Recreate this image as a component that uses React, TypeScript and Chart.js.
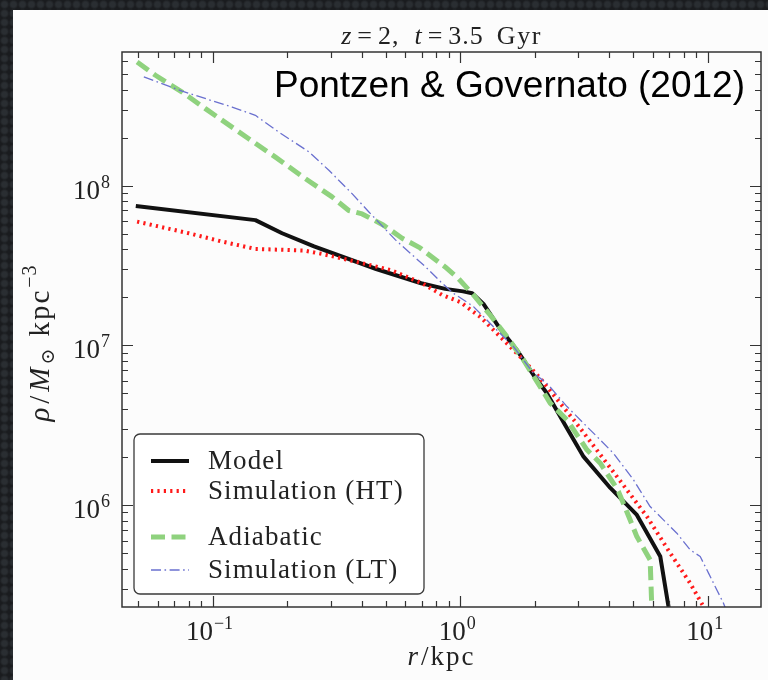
import { useEffect, useRef } from "react";
import { Chart, registerables } from "chart.js";

Chart.register(...registerables);

// Radial density profiles (r in kpc, rho in Msun / kpc^3)
const MODEL_R = [0.049, 0.149, 0.191, 0.257, 0.458, 0.696, 0.87, 1.028, 1.118, 1.242, 1.45, 1.694, 1.977, 2.24, 2.7, 3.15, 4.04, 5.17, 6.43, 6.94, 7.1];
const MODEL_RHO = [7.47e7, 6.09e7, 5.04e7, 4.17e7, 3.01e7, 2.45e7, 2.26e7, 2.18e7, 2.12e7, 1.82e7, 1.27e7, 9.37e6, 6.53e6, 5.02e6, 3.03e6, 2.01e6, 1.28e6, 8.68e5, 4.76e5, 2.31e5, 1.4e5];

const HT_R = [0.0496, 0.0802, 0.1093, 0.149, 0.234, 0.277, 0.378, 0.522, 0.703, 0.846, 1.0, 1.205, 1.45, 1.747, 2.104, 2.534, 2.914, 4.1, 5.68, 7.05, 8.49, 9.61, 10.4];
const HT_RHO = [5.96e7, 5.04e7, 4.47e7, 4.02e7, 3.93e7, 3.74e7, 3.35e7, 2.97e7, 2.45e7, 2.07e7, 1.87e7, 1.51e7, 1.135e7, 8.51e6, 6.23e6, 4.35e6, 3.33e6, 1.66e6, 8.47e5, 5.0e5, 3.24e5, 2.31e5, 1.7e5];

const ADIA_R = [0.0496, 0.0588, 0.0754, 0.0936, 0.14, 0.1795, 0.237, 0.304, 0.355, 0.402, 0.489, 0.583, 0.689, 0.87, 0.979, 1.132, 1.322, 1.544, 1.802, 2.104, 2.31, 2.7, 3.25, 3.68, 4.16, 4.36, 4.86, 5.17, 5.5, 5.85, 5.94, 5.96];
const ADIA_RHO = [5.96e8, 4.92e8, 3.86e8, 3.04e8, 1.97e8, 1.51e8, 1.108e8, 8.51e7, 7.0e7, 6.66e7, 5.68e7, 4.69e7, 4.08e7, 3.1e7, 2.64e7, 2.07e7, 1.55e7, 1.135e7, 8.11e6, 5.52e6, 4.35e6, 3.42e6, 2.22e6, 1.83e6, 1.37e6, 1.215e6, 8.07e5, 6.35e5, 5.37e5, 4.54e5, 2.31e5, 1.5e5];

const LT_R = [0.0528, 0.0754, 0.12, 0.149, 0.185, 0.245, 0.295, 0.366, 0.428, 0.548, 0.724, 0.846, 0.94, 1.132, 1.363, 1.642, 1.977, 2.24, 2.7, 3.25, 3.68, 4.16, 5.01, 5.85, 6.62, 7.5, 8.49, 9.32, 10.07, 10.88, 11.57, 12.0];
const LT_RHO = [4.8e8, 3.91e8, 3.11e8, 2.76e8, 2.17e8, 1.63e8, 1.25e8, 8.92e7, 6.85e7, 4.58e7, 3.11e7, 2.45e7, 2.12e7, 1.75e7, 1.31e7, 9.83e6, 6.7e6, 5.79e6, 4.14e6, 3.1e6, 2.56e6, 2.11e6, 1.44e6, 9.79e5, 8.08e5, 6.67e5, 5.24e5, 4.76e5, 3.75e5, 2.94e5, 2.43e5, 2.1e5];

const SERIES_LABELS = ["Model", "Simulation (HT)", "Adiabatic", "Simulation (LT)"];

// Axis ranges and labelled decades
const X_MIN = 0.0431;
const X_MAX = 16.4;
const Y_MIN = 2.3e5;
const Y_MAX = 6.88e8;
const X_TICK_EXPONENTS = [-1, 0, 1];
const Y_TICK_EXPONENTS = [6, 7, 8];

const TITLE_TEXT = "z=2, t=3.5 Gyr";
const CREDIT_TEXT = "Pontzen & Governato (2012)";

const SERIF = '"Liberation Serif", "DejaVu Serif", serif';
const SANS = '"Liberation Sans", Arial, sans-serif';
const AXIS_COLOR = "#333333";
const TEXT_COLOR = "#222222";

// a run of rich text: either a glyph string or a blank gap in px
type Seg = { t?: string; font?: string; dy?: number; gap?: number; ls?: number };

function segWidth(ctx: any, s: Seg) {
  if (s.gap !== undefined) return s.gap;
  ctx.font = s.font;
  ctx.letterSpacing = `${s.ls || 0}px`;
  const w = ctx.measureText(s.t).width;
  ctx.letterSpacing = "0px";
  return w;
}

function drawRich(ctx: any, segs: Seg[], x: number, y: number, align: "left" | "center" | "right") {
  let w = 0;
  for (const s of segs) w += segWidth(ctx, s);
  let cx = align === "left" ? x : align === "center" ? x - w / 2 : x - w;
  ctx.textAlign = "left";
  ctx.textBaseline = "alphabetic";
  for (const s of segs) {
    const sw = segWidth(ctx, s);
    if (s.gap === undefined) {
      ctx.font = s.font;
      ctx.letterSpacing = `${s.ls || 0}px`;
      ctx.fillText(s.t, cx, y + (s.dy || 0));
      ctx.letterSpacing = "0px";
    }
    cx += sw;
  }
}

function powLabel(exp: number, size: number): Seg[] {
  const e = exp < 0 ? "\u2212" + String(-exp) : String(exp);
  return [
    { t: "10", font: `${size}px ${SERIF}` },
    { gap: 1 },
    { t: e, font: `${Math.round(size * 0.68)}px ${SERIF}`, dy: -Math.round(size * 0.42) },
  ];
}

function logTicks(min: number, max: number) {
  const out: { v: number; major: boolean }[] = [];
  const lo = Math.floor(Math.log10(min));
  const hi = Math.ceil(Math.log10(max));
  for (let d = lo; d <= hi; d++) {
    const base = Math.pow(10, d);
    for (let m = 1; m <= 9; m++) {
      const v = m * base;
      if (v >= min && v <= max) out.push({ v, major: m === 1 });
    }
  }
  return out;
}

const decorPlugin = {
  id: "decor",
  afterDraw(chart: any) {
    const ctx: any = chart.ctx;
    const { left, right, top, bottom } = chart.chartArea;
    const xs = chart.scales.x;
    const ys = chart.scales.y;
    ctx.save();

    // frame
    ctx.strokeStyle = AXIS_COLOR;
    ctx.lineWidth = 1.5;
    ctx.strokeRect(left, top, right - left, bottom - top);

    // inward ticks on all four sides
    ctx.lineWidth = 1.2;
    ctx.beginPath();
    for (const t of logTicks(X_MIN, X_MAX)) {
      const px = Math.round(xs.getPixelForValue(t.v)) + 0.5;
      const len = t.major ? 11 : 6;
      ctx.moveTo(px, bottom);
      ctx.lineTo(px, bottom - len);
      ctx.moveTo(px, top);
      ctx.lineTo(px, top + len);
    }
    for (const t of logTicks(Y_MIN, Y_MAX)) {
      const py = Math.round(ys.getPixelForValue(t.v)) + 0.5;
      const len = t.major ? 11 : 6;
      ctx.moveTo(left, py);
      ctx.lineTo(left + len, py);
      ctx.moveTo(right, py);
      ctx.lineTo(right - len, py);
    }
    ctx.stroke();

    // tick labels
    ctx.fillStyle = TEXT_COLOR;
    for (const e of X_TICK_EXPONENTS) {
      const px = xs.getPixelForValue(Math.pow(10, e));
      drawRich(ctx, powLabel(e, 27), px - 3, bottom + 33, "center");
    }
    for (const e of Y_TICK_EXPONENTS) {
      const py = ys.getPixelForValue(Math.pow(10, e));
      drawRich(ctx, powLabel(e, 27), left - 12, py + 13, "right");
    }

    // axis labels
    const italic = `italic 27px ${SERIF}`;
    const roman = `27px ${SERIF}`;
    drawRich(
      ctx,
      [
        { t: "r", font: italic, ls: 1 },
        { gap: 2 },
        { t: "/", font: roman },
        { gap: 2 },
        { t: "kpc", font: roman, ls: 2 },
      ],
      (left + right) / 2,
      bottom + 58,
      "center"
    );

    ctx.save();
    ctx.translate(49, 343);
    ctx.rotate(-Math.PI / 2);
    drawRich(
      ctx,
      [
        { t: "\u03c1", font: `italic 29px ${SERIF}` },
        { gap: 4 },
        { t: "/", font: `29px ${SERIF}` },
        { gap: 4 },
        { t: "M", font: `italic 29px ${SERIF}` },
        { gap: 3 },
        { t: "\u2299", font: `19px ${SERIF}`, dy: 5 },
        { gap: 12 },
        { t: "kpc", font: `29px ${SERIF}`, ls: 2 },
        { gap: 1 },
        { t: "\u22123", font: `20px ${SERIF}`, dy: -13, ls: 1 },
      ],
      0,
      0,
      "center"
    );
    ctx.restore();

    // title
    const [lhs, rhs] = TITLE_TEXT.split(", ");
    const [zName, zVal] = lhs.split("=");
    const [tName, tRest] = rhs.split("=");
    const [tVal, tUnit] = tRest.split(" ");
    const tf = `26px ${SERIF}`;
    const ti = `italic 26px ${SERIF}`;
    drawRich(
      ctx,
      [
        { t: zName, font: ti },
        { gap: 6 },
        { t: "=", font: tf },
        { gap: 6 },
        { t: zVal + ",", font: tf, ls: 1 },
        { gap: 15 },
        { t: tName, font: ti },
        { gap: 6 },
        { t: "=", font: tf },
        { gap: 6 },
        { t: tVal, font: tf, ls: 1 },
        { gap: 13 },
        { t: tUnit, font: tf, ls: 1.5 },
      ],
      (left + right) / 2,
      44,
      "center"
    );

    // credit line
    ctx.fillStyle = "#000000";
    ctx.font = `37px ${SANS}`;
    ctx.textAlign = "right";
    ctx.fillText(CREDIT_TEXT, right - 16, 97);

    // legend
    const bx = 134, by = 434, bw = 290, bh = 160;
    ctx.beginPath();
    ctx.roundRect(bx, by, bw, bh, 6);
    ctx.fillStyle = "#ffffff";
    ctx.fill();
    ctx.strokeStyle = "#3a3a3a";
    ctx.lineWidth = 1.3;
    ctx.stroke();
    const rows = [27, 57, 103, 136];
    chart.data.datasets.forEach((ds: any, i: number) => {
      const ly = by + rows[i];
      ctx.save();
      ctx.strokeStyle = ds.borderColor;
      ctx.lineWidth = ds.borderWidth;
      ctx.setLineDash(ds.borderDash || []);
      ctx.lineCap = "butt";
      ctx.beginPath();
      ctx.moveTo(151, ly);
      ctx.lineTo(189, ly);
      ctx.stroke();
      ctx.restore();
      ctx.fillStyle = TEXT_COLOR;
      drawRich(ctx, [{ t: ds.label, font: `27px ${SERIF}`, ls: 1.1 }], 208, ly + 8, "left");
    });

    ctx.restore();
  },
};

function pts(r: number[], rho: number[]) {
  return r.map((v, i) => ({ x: v, y: rho[i] }));
}

export default function App() {
  const canvasRef = useRef<HTMLCanvasElement | null>(null);

  useEffect(() => {
    const canvas = canvasRef.current;
    if (!canvas) return;
    const chart = new Chart(canvas, {
      type: "line",
      data: {
        datasets: [
          {
            label: SERIES_LABELS[0],
            data: pts(MODEL_R, MODEL_RHO),
            borderColor: "#111111",
            borderWidth: 4,
            order: 3,
          },
          {
            label: SERIES_LABELS[1],
            data: pts(HT_R, HT_RHO),
            borderColor: "#ff1a1a",
            borderWidth: 4,
            borderDash: [2.2, 4.2],
            order: 2,
          },
          {
            label: SERIES_LABELS[2],
            data: pts(ADIA_R, ADIA_RHO),
            borderColor: "#8fd27e",
            borderWidth: 5,
            borderDash: [14, 6.5],
            order: 1,
          },
          {
            label: SERIES_LABELS[3],
            data: pts(LT_R, LT_RHO),
            borderColor: "#6a70cf",
            borderWidth: 1.3,
            borderDash: [10, 3.5, 1.6, 3.5],
            order: 0,
          },
        ].map((d) => ({
          ...d,
          fill: false,
          pointRadius: 0,
          tension: 0,
          borderCapStyle: "butt",
          borderJoinStyle: "round",
          clip: 0,
        })) as any,
      },
      options: {
        animation: false,
        responsive: false,
        events: [],
        parsing: false,
        layout: { padding: { left: 122, top: 52, right: 7, bottom: 73 } },
        plugins: {
          legend: { display: false },
          title: { display: false },
          tooltip: { enabled: false },
        },
        scales: {
          x: { type: "logarithmic", min: X_MIN, max: X_MAX, display: false },
          y: { type: "logarithmic", min: Y_MIN, max: Y_MAX, display: false },
        },
      },
      plugins: [decorPlugin],
    });
    return () => chart.destroy();
  }, []);

  return (
    <div
      style={{
        position: "fixed",
        left: 0,
        top: 0,
        width: 768,
        height: 680,
        backgroundColor: "#1d2023",
        backgroundImage: "radial-gradient(circle, #2a2e32 40%, #1a1c1f 75%)",
        backgroundSize: "9px 9px",
        overflow: "hidden",
      }}
    >
      <div style={{ position: "absolute", left: 13, top: 10, right: 0, bottom: 0, background: "#fcfcfc" }} />
      <canvas ref={canvasRef} width={768} height={680} style={{ position: "absolute", left: 0, top: 0, display: "block" }} />
    </div>
  );
}
